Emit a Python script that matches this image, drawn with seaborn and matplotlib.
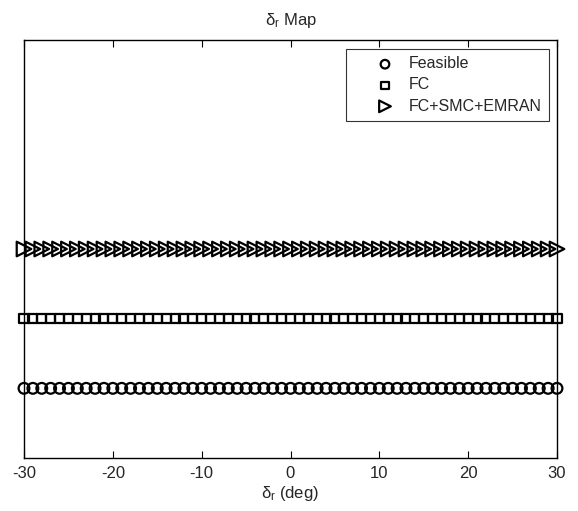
import numpy as np
import pandas as pd
import matplotlib
matplotlib.use("Agg")
import matplotlib.pyplot as plt
import seaborn as sns

# Data
delta_r = list(range(-30, 31))           # deg
series_names = ["Feasible", "FC", "FC+SMC+EMRAN"]
series_levels = [1, 2, 3]                # row level of each series
series_markers = ["o", "s", ">"]
x_ticks = [-30, -20, -10, 0, 10, 20, 30]

sns.set_theme(style="white")
plt.rcParams['font.family'] = ['Liberation Sans', 'DejaVu Sans']
plt.rcParams['mathtext.fontset'] = 'custom'
plt.rcParams['mathtext.rm'] = 'Liberation Sans'
plt.rcParams['mathtext.it'] = 'Liberation Sans'
plt.rcParams['mathtext.bf'] = 'Liberation Sans:bold'

fig = plt.figure(figsize=(5.78, 5.11), dpi=100)
ax = fig.add_axes([24/578, 53/511, 533/578, 418/511])

sizes = {"o": 60, "s": 42, ">": 110}
for name, lev, mk in zip(series_names, series_levels, series_markers):
    df = pd.DataFrame({"x": delta_r, "y": [lev] * len(delta_r)})
    sns.scatterplot(data=df, x="x", y="y", marker=mk, s=sizes[mk],
                    facecolor="none", edgecolor="black", linewidth=1.6,
                    ax=ax, label=name, clip_on=False, zorder=3)

ax.set_xlim(-30, 30)
ax.set_ylim(0, 6)
ax.set_xticks(x_ticks)
ax.set_xticklabels([str(t) for t in x_ticks])
ax.set_yticks([])
ax.tick_params(axis='x', direction='in', top=True, bottom=True, length=5,
               width=0.8, color='black', labelsize=12, pad=6)
for sp in ax.spines.values():
    sp.set_visible(True)
    sp.set_color('black')
    sp.set_linewidth(1.0)

ax.set_xlabel(r'$\delta_r$ (deg)', fontsize=12, labelpad=2)
ax.set_ylabel('')
ax.set_title(r'$\delta_r$ Map', fontsize=12, pad=11)

leg = ax.legend(loc='upper right', bbox_to_anchor=(0.985, 0.978),
                borderaxespad=0, fontsize=11.5, frameon=True, fancybox=False,
                handletextpad=-0.5, borderpad=0.45, labelspacing=0.38,
                handlelength=4.0, markerscale=0.8)
leg.get_frame().set_edgecolor('black')
leg.get_frame().set_linewidth(0.8)

fig.savefig("out.png", dpi=100, facecolor='white')
